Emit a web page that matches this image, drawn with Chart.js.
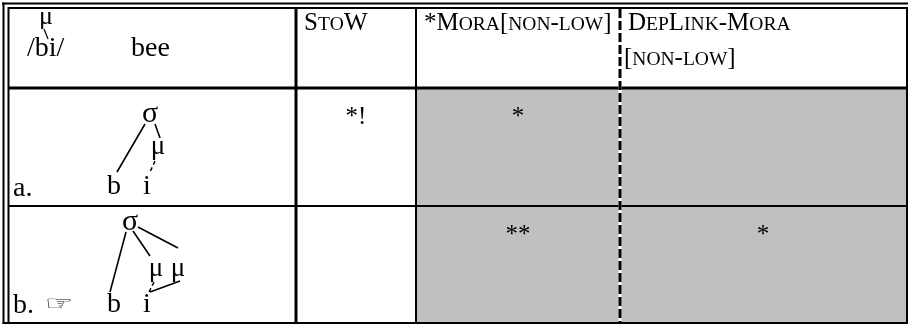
<!DOCTYPE html>
<html><head><meta charset="utf-8">
<script src="https://cdn.jsdelivr.net/npm/chart.js@4"></script>
<style>html,body{margin:0;padding:0;background:#fff}canvas{display:block}</style>
</head><body>
<canvas id="c" width="910" height="327"></canvas>
<script>
// ---- data ----
const inputForm = '/bi/';
const inputGloss = 'bee';
const constraints = ['StoW', '*Mora[non-low]', 'DepLink-Mora'];
const constraintLine2 = ['', '', '[non-low]'];
const candidates = ['a.', 'b.'];
const winner = ['', '\u261E'];
const violations = [['*!', '*', ''], ['', '**', '*']];
const shaded = [[false, true, true], [false, true, true]];
const unrankedBefore = [false, false, true];

// ---- layout (not data) ----
const W = 910, H = 327;
const colEdges = [9, 296, 416, 620, 906];
const rowEdges = [8, 88, 206, 323];
const SERIF = '"Liberation Serif", "Times New Roman", serif';

const marks = [];
violations.forEach((row, r) => row.forEach((v, c) => {
  if (v) marks.push({ x: (colEdges[c + 1] + colEdges[c + 2]) / 2, y: rowEdges[r + 1] + 36, t: v });
}));

function scText(ctx, text, x, y, size) {
  let cx = x;
  for (const ch of text) {
    const low = ch >= 'a' && ch <= 'z';
    const s = low ? size * 0.78 : size;
    ctx.font = s + 'px ' + SERIF;
    const g = low ? ch.toUpperCase() : ch;
    ctx.fillText(g, cx, y);
    cx += ctx.measureText(g).width;
  }
}
function line(ctx, x1, y1, x2, y2, w, dash) {
  ctx.save();
  ctx.lineWidth = w; ctx.strokeStyle = '#000';
  ctx.setLineDash(dash || []);
  ctx.beginPath(); ctx.moveTo(x1, y1); ctx.lineTo(x2, y2); ctx.stroke();
  ctx.restore();
}
function txt(ctx, s, x, y, size, align, font) {
  ctx.font = size + 'px ' + (font || SERIF);
  ctx.textAlign = align || 'left';
  ctx.fillText(s, x, y);
  ctx.textAlign = 'left';
}

const tableau = {
  id: 'tableau',
  beforeDatasetsDraw(chart) {
    const ctx = chart.ctx;
    const X = v => chart.scales.x.getPixelForValue(v);
    const Y = v => chart.scales.y.getPixelForValue(v);
    ctx.save();
    ctx.fillStyle = '#fff'; ctx.fillRect(0, 0, W, H);
    // shading
    ctx.fillStyle = '#c0c0c0';
    shaded.forEach((row, r) => row.forEach((s, c) => {
      if (s) ctx.fillRect(X(colEdges[c + 1]), Y(rowEdges[r + 1]), X(colEdges[c + 2]) - X(colEdges[c + 1]), Y(rowEdges[r + 2]) - Y(rowEdges[r + 1]));
    }));
    // outer double border
    line(ctx, X(2), Y(3.5), X(908), Y(3.5), 2);
    line(ctx, X(8), Y(8), X(908), Y(8), 2);
    line(ctx, X(3.5), Y(2.5), X(3.5), Y(324), 2);
    line(ctx, X(8.5), Y(7), X(8.5), Y(324), 2);
    line(ctx, X(907), Y(7), X(907), Y(324), 2);
    line(ctx, X(2.5), Y(323), X(908), Y(323), 2);
    // rows
    line(ctx, X(9), Y(rowEdges[1]), X(907), Y(rowEdges[1]), 3);
    line(ctx, X(9), Y(rowEdges[2]), X(907), Y(rowEdges[2]), 2);
    // columns
    line(ctx, X(colEdges[1]), Y(8), X(colEdges[1]), Y(323), 3);
    for (let c = 2; c < colEdges.length - 1; c++) {
      const k = c - 1;
      if (unrankedBefore[k]) {
        ctx.save(); ctx.strokeStyle = '#fff'; ctx.lineWidth = 3;
        ctx.beginPath(); ctx.moveTo(X(colEdges[c]), Y(9)); ctx.lineTo(X(colEdges[c]), Y(322)); ctx.stroke(); ctx.restore();
        line(ctx, X(colEdges[c]), Y(9), X(colEdges[c]), Y(322), 3, [9, 3]);
      } else {
        line(ctx, X(colEdges[c]), Y(8), X(colEdges[c]), Y(323), 2);
      }
    }
    ctx.fillStyle = '#000';
    ctx.textBaseline = 'alphabetic';
    // header input
    txt(ctx, '\u03BC', X(46), Y(24), 26, 'center');
    line(ctx, X(44), Y(29), X(48), Y(39), 1.2);
    txt(ctx, inputForm, X(27), Y(56), 28);
    txt(ctx, inputGloss, X(131), Y(56), 28);
    // constraint headers
    constraints.forEach((c, i) => {
      scText(ctx, c, X(colEdges[i + 1] + 8), Y(30), 25);
      if (constraintLine2[i]) scText(ctx, constraintLine2[i], X(colEdges[i + 1] + 4), Y(65), 25);
    });
    // candidate labels
    candidates.forEach((c, r) => {
      txt(ctx, c, X(13), Y(rowEdges[r + 2] - 10), 28);
      if (winner[r]) {
        ctx.save();
        ctx.translate(X(45), Y(rowEdges[r + 2] - 13));
        ctx.scale(1.6, 1);
        txt(ctx, winner[r], 0, 0, 20, 'left', '"DejaVu Sans"');
        ctx.restore();
      }
    });
    // tree a
    let t = rowEdges[1];
    txt(ctx, '\u03C3', X(150), Y(t + 34), 30, 'center');
    line(ctx, X(145), Y(t + 36), X(117), Y(t + 84), 1.6);
    line(ctx, X(155), Y(t + 36), X(160), Y(t + 50), 1.6);
    txt(ctx, '\u03BC', X(158), Y(t + 66), 27, 'center');
    line(ctx, X(155), Y(t + 73), X(150), Y(t + 84), 1.5, [4, 3]);
    txt(ctx, 'b', X(114), Y(t + 106), 28, 'center');
    txt(ctx, 'i', X(147), Y(t + 106), 28, 'center');
    // tree b
    t = rowEdges[2];
    txt(ctx, '\u03C3', X(130), Y(t + 24), 30, 'center');
    line(ctx, X(126), Y(t + 26), X(110), Y(t + 86), 1.6);
    line(ctx, X(133), Y(t + 25), X(150), Y(t + 50), 1.6);
    line(ctx, X(138), Y(t + 21), X(178), Y(t + 42), 1.6);
    txt(ctx, '\u03BC', X(156), Y(t + 70), 27, 'center');
    txt(ctx, '\u03BC', X(178), Y(t + 70), 27, 'center');
    line(ctx, X(154), Y(t + 76), X(149), Y(t + 86), 1.5, [4, 3]);
    line(ctx, X(150), Y(t + 86), X(180), Y(t + 75), 1.6);
    txt(ctx, 'b', X(114), Y(t + 106), 28, 'center');
    txt(ctx, 'i', X(147), Y(t + 106), 28, 'center');
    ctx.restore();
  },
  afterDatasetsDraw(chart) {
    const ctx = chart.ctx;
    const meta = chart.getDatasetMeta(0);
    ctx.save();
    ctx.fillStyle = '#000';
    meta.data.forEach((el, i) => {
      txt(ctx, chart.data.datasets[0].data[i].t, el.x, el.y, 25, 'center');
    });
    ctx.restore();
  }
};

new Chart(document.getElementById('c'), {
  type: 'scatter',
  data: { datasets: [{ data: marks, pointRadius: 0, pointHoverRadius: 0 }] },
  options: {
    responsive: false, animation: false, devicePixelRatio: 1,
    layout: { padding: 0 },
    events: [],
    scales: {
      x: { type: 'linear', min: 0, max: W, display: false },
      y: { type: 'linear', min: 0, max: H, reverse: true, display: false }
    },
    plugins: { legend: { display: false }, tooltip: { enabled: false } }
  },
  plugins: [tableau]
});
</script>
</body></html>
